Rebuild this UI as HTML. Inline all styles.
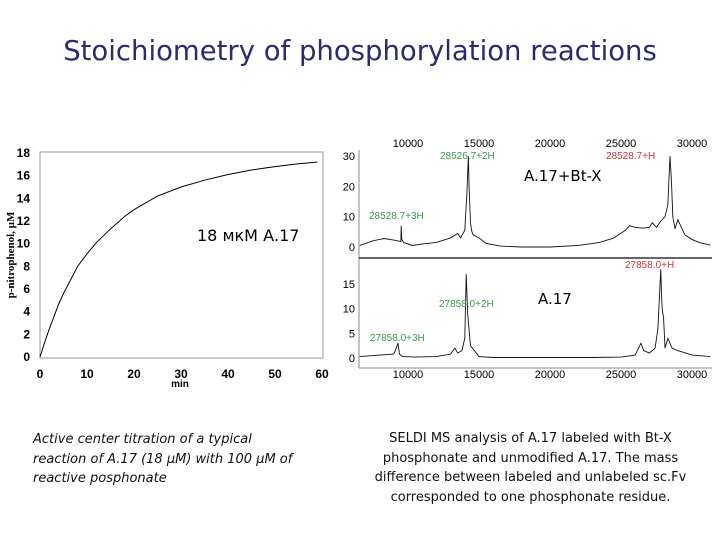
<!DOCTYPE html>
<html><head><meta charset="utf-8"><style>
body{margin:0;background:#fff;width:720px;height:540px;overflow:hidden;font-family:"Liberation Sans",sans-serif}
svg{position:absolute;left:0;top:0}
.cap{position:absolute;font-family:"DejaVu Sans","Liberation Sans",sans-serif;font-size:13px;line-height:19.5px;color:#111}
</style></head><body>
<div style="position:absolute;left:0;width:720px;top:35px;text-align:center;font-size:27.5px;color:#2b2b6e;font-family:'DejaVu Sans','Liberation Sans',sans-serif">Stoichiometry of phosphorylation reactions</div>
<svg id="s" width="720" height="540"></svg>
<div class="cap" style="left:33px;top:430px;width:265px;font-style:italic">Active center titration of a typical reaction of A.17 (18 µM) with 100 µM of reactive posphonate</div>
<div class="cap" style="left:368px;top:429px;width:325px;text-align:center">SELDI MS analysis of A.17 labeled with Bt-X phosphonate and unmodified A.17. The mass difference between labeled and unlabeled sc.Fv corresponded to one phosphonate residue.</div>
<script>
const timeMin=[0,1,2,3,4,5,6,8,10,12,15,18,20,25,30,35,40,45,50,55,59];
const pnp=[0,1.3,2.5,3.6,4.7,5.6,6.4,8.0,9.1,10.1,11.3,12.4,13.0,14.2,15.0,15.6,16.1,16.5,16.8,17.05,17.2];
const xTicks=[0,10,20,30,40,50,60];
const yTicks=[0,2,4,6,8,10,12,14,16,18];
const mzTicks=[10000,15000,20000,25000,30000];
const topTicks=[0,10,20,30];
const botTicks=[0,5,10,15];
const topMz=[6600,7500,8300,9000,9500,9520,9560,9700,10300,11000,12000,13000,13500,13700,14000,14150,14250,14300,14400,14500,14600,15000,15500,16500,18000,20000,22000,23500,24500,25300,25600,26000,26500,27000,27200,27500,27800,28100,28300,28450,28550,28650,28800,29000,29300,29500,30000,30500,31300];
const topInt=[0.5,2,2.8,2.3,1.8,7,2.5,1.5,0.5,1,1.5,3,4.5,3,5.5,18,30,20,8,5,4,3,1.2,0.3,0,0,0.5,1.5,3,5.5,7,6.5,6.2,6.5,8,6.5,8.5,10,14,30,22,10,6,9,6,4,2.5,1.5,0.6];
const botMz=[6600,8000,9000,9300,9400,9600,10500,12000,13000,13300,13500,13800,14000,14100,14200,14400,15000,16000,17000,20000,23000,25000,26000,26400,26600,27000,27400,27600,27800,27850,27900,28000,28100,28300,28600,29000,30000,31300];
const botInt=[0.3,0.6,0.8,3,0.8,0.3,0.2,0.3,0.8,2,1,1.5,4,17,9,2.5,0.3,0.1,0.1,0.1,0.1,0.2,0.6,3,1.5,1,2,6,18,13,10,8,2,4,2,1.5,0.6,0.3];
const S=document.getElementById('s');const NS='http://www.w3.org/2000/svg';
function el(t,a,txt){const e=document.createElementNS(NS,t);for(const k in a)e.setAttribute(k,a[k]);if(txt!==undefined)e.textContent=txt;S.appendChild(e);return e;}
const lx=v=>40+v*(282/60), ly=v=>357-v*(204/18);
let f=el('rect',{x:40,y:152,width:283,height:206,fill:'none',stroke:'#999','stroke-width':1});


xTicks.forEach(t=>{const e=el('text',{x:lx(t),y:378,'font-size':12,'font-weight':'bold','text-anchor':'middle'},t);

});
yTicks.forEach(t=>{const e=el('text',{x:30,y:ly(t)+4,'font-size':12,'font-weight':'bold','text-anchor':'end'},t);

});
let e=el('text',{x:180,y:387,'font-size':10,'font-weight':'bold','text-anchor':'middle'},'min');


e=el('text',{x:14,y:255,'font-size':11,'font-weight':'bold','font-family':'Liberation Serif,serif','text-anchor':'middle',transform:'rotate(-90 14 255)'},'p-nitrophenol, µM');


e=el('polyline',{points:timeMin.map((t,i)=>lx(t)+','+ly(pnp[i])).join(' '),fill:'none',stroke:'#000','stroke-width':1});


e=el('text',{x:197,y:241,'font-size':16,'font-family':'DejaVu Sans,sans-serif'},'18 мкМ А.17');


const mx=v=>408+(v-10000)*0.0142;
const ty=v=>247-v*3.03, by=v=>358-v*4.93;
e=el('line',{x1:359,y1:150,x2:359,y2:368,stroke:'#888'});


e=el('line',{x1:359,y1:258,x2:712,y2:258,stroke:'#333','stroke-width':1.5});


e=el('line',{x1:359,y1:368,x2:712,y2:368,stroke:'#888'});


mzTicks.forEach(t=>{let a=el('text',{x:mx(t),y:147,'font-size':11,'text-anchor':'middle'},t);


let b=el('text',{x:mx(t),y:378,'font-size':11,'text-anchor':'middle'},t);

});
topTicks.forEach(t=>{const a=el('text',{x:355,y:ty(t)+4,'font-size':11,'text-anchor':'end'},t);

});
botTicks.forEach(t=>{const a=el('text',{x:355,y:by(t)+4,'font-size':11,'text-anchor':'end'},t);

});
e=el('polyline',{points:topMz.map((m,i)=>mx(m)+','+ty(topInt[i])).join(' '),fill:'none',stroke:'#111','stroke-width':0.9});


e=el('polyline',{points:botMz.map((m,i)=>mx(m)+','+by(botInt[i])).join(' '),fill:'none',stroke:'#111','stroke-width':0.9});


[[440,159,'28526.7+2H','#3a9a4a'],[606,159,'28528.7+H','#c33'],[369,219,'28528.7+3H','#3a9a4a'],[439,307,'27858.0+2H','#3a9a4a'],[625,268,'27858.0+H','#c33'],[370,341,'27858.0+3H','#3a9a4a']].forEach(a=>{
const t=el('text',{x:a[0],y:a[1],'font-size':10,fill:a[3]},a[2]);

});
e=el('text',{x:524,y:181,'font-size':15,'font-family':'DejaVu Sans,sans-serif'},'A.17+Bt-X');


e=el('text',{x:538,y:304,'font-size':15,'font-family':'DejaVu Sans,sans-serif'},'A.17');


</script>
</body></html>
